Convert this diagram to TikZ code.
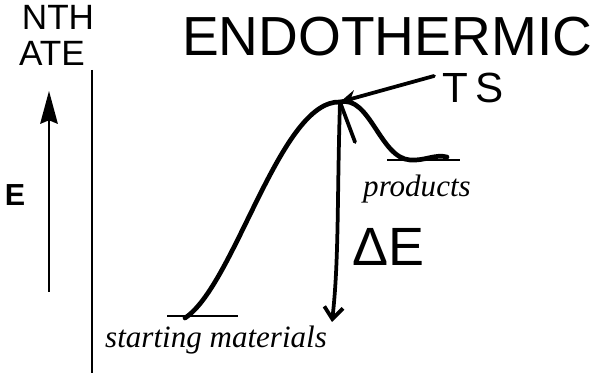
\documentclass[tikz,border=0pt]{standalone}
\usepackage{fontspec}
\setmainfont{Liberation Serif}
\setsansfont{Liberation Sans}
\usetikzlibrary{arrows.meta}

\begin{document}
\begin{tikzpicture}[x=0.03cm, y=-0.03cm,
  lvl/.style={line width=1.6pt},
  lbl/.style={font=\fontsize{26.5}{30}\selectfont\itshape, inner sep=0pt, anchor=base west},
  hand/.style={font=\sffamily\fontsize{46}{46}\selectfont, inner sep=0pt},
  stroke/.style={line width=3.2pt, line cap=round},
  arr/.style={stroke, -{Stealth[length=14pt,width=13pt]}}]
  \useasboundingbox (0,0) rectangle (603,373);

  % energy axis
  \coordinate (ebot) at (49,292);
  \coordinate (etop) at (49,91);
  \draw[line width=1.6pt, -{Stealth[length=28pt,width=15pt,inset=3pt]}] (ebot) -- (etop);
  \node[font=\sffamily\bfseries\fontsize{26}{26}\selectfont] (elbl) at (15,195) {E};
  \coordinate (ax1) at (92,70);
  \coordinate (ax2) at (92,373);
  \draw[line width=1.8pt] (ax1) -- (ax2);

  % levels
  \coordinate (sml) at (167,316);
  \coordinate (smr) at (238,316);
  \coordinate (prl) at (387,160);
  \coordinate (prr) at (460,160);
  \draw[lvl] (sml) -- (smr);
  \draw[lvl] (prl) -- (prr);
  \node[lbl] (smtxt) at (105,348) {starting materials};
  \node[lbl] (prtxt) at (363,197) {products};

  % reaction profile
  \coordinate (start) at (185,318);
  \coordinate (peak) at (340,102);
  \coordinate (end) at (410,160);
  \coordinate (tail) at (447,157);
  \draw[stroke, line width=4pt] (start) .. controls (235,285) and (280,100) .. (peak)
    .. controls (370,95) and (380,158) .. (end) .. controls (425,161) and (435,154) .. (tail);

  % handwritten notes
  \node[hand, font=\sffamily\fontsize{47}{47}\selectfont, anchor=west] (title) at (182,37) {ENDOTHERMIC};
  \node[hand, font=\sffamily\fontsize{36}{36}\selectfont, anchor=west] (ts) at (442,88) {T\hspace{6pt}S};
  \node[hand, font=\sffamily\fontsize{30}{30}\selectfont] (top1) at (58,17) {NTH};
  \node[hand, font=\sffamily\fontsize{30}{30}\selectfont] (top2) at (52,53) {ATE};
  \node[hand, anchor=west] (de) at (352,247) {ΔE};
  \draw[arr] (ts.west) ++(-8,-12) coordinate (tsarr) (tsarr) -- (peak);
  \coordinate (debot) at (332,322);
  \draw[arr, -{Straight Barb[length=10pt,width=16pt]}] (peak) .. controls (337,200) and (339,260) .. (debot);
  \coordinate (scrib) at (355,142);
  \draw[stroke] (peak) -- (scrib);
\end{tikzpicture}
\end{document}
